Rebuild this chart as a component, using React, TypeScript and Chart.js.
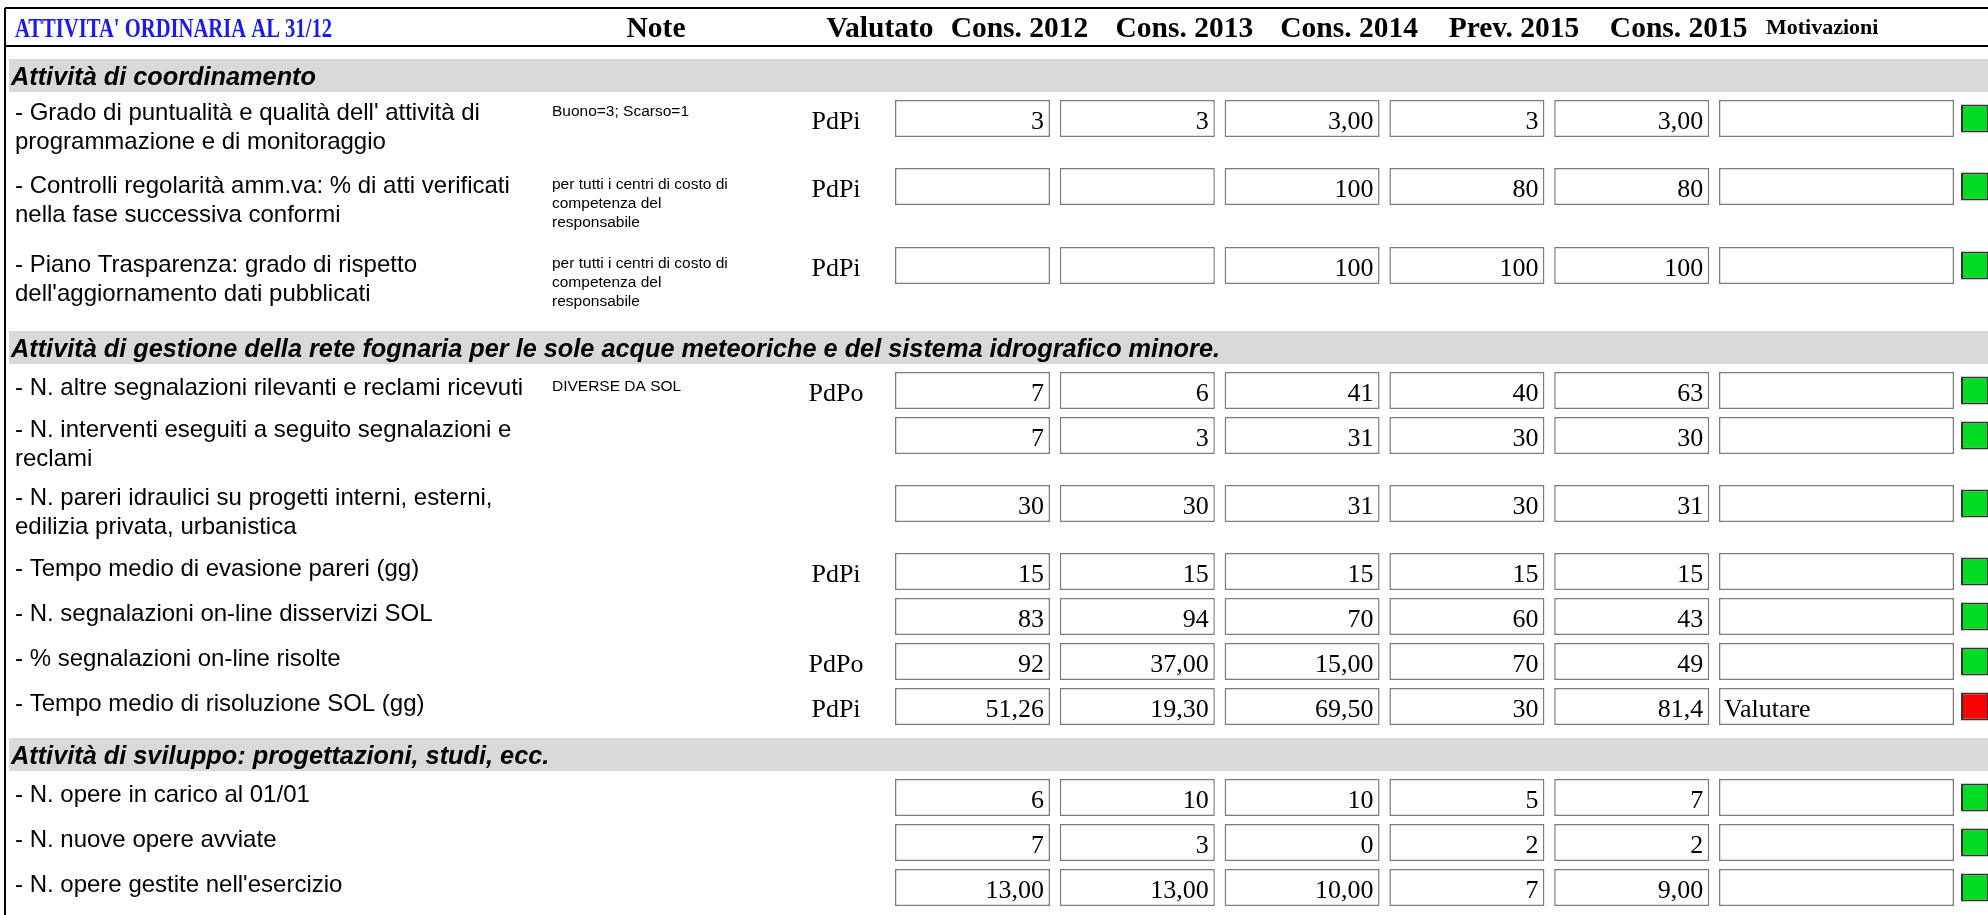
import { useEffect, useRef } from "react";
import { Chart, registerables } from "chart.js";

Chart.register(...registerables);

// ---------------- DATA ----------------
const pageTitle = "ATTIVITA' ORDINARIA AL 31/12";
const headerNote = "Note";
const headerValutato = "Valutato";
const periodLabels = ["Cons. 2012", "Cons. 2013", "Cons. 2014", "Prev. 2015", "Cons. 2015"];
const headerMotivazioni = "Motivazioni";

const sectionTitles = [
  "Attività di coordinamento",
  "Attività di gestione della rete fognaria per le sole acque meteoriche e del sistema idrografico minore.",
  "Attività di sviluppo: progettazioni, studi, ecc.",
];
const rowSection = [0, 0, 0, 1, 1, 1, 1, 1, 1, 1, 2, 2, 2];

const indicators = [
  "- Grado di puntualità e qualità dell' attività di\nprogrammazione e di monitoraggio",
  "- Controlli regolarità amm.va: % di atti verificati\nnella fase successiva conformi",
  "- Piano Trasparenza: grado di rispetto\ndell'aggiornamento dati pubblicati",
  "- N. altre segnalazioni rilevanti e reclami ricevuti",
  "- N. interventi eseguiti a seguito segnalazioni e\nreclami",
  "- N. pareri idraulici su progetti interni, esterni,\nedilizia privata, urbanistica",
  "- Tempo medio di evasione pareri (gg)",
  "- N. segnalazioni on-line disservizi SOL",
  "- % segnalazioni on-line risolte",
  "- Tempo medio di risoluzione SOL (gg)",
  "- N. opere in carico al 01/01",
  "- N. nuove opere avviate",
  "- N. opere gestite nell'esercizio",
];
const notes = [
  "Buono=3; Scarso=1",
  "per tutti i centri di costo di\ncompetenza del\nresponsabile",
  "per tutti i centri di costo di\ncompetenza del\nresponsabile",
  "DIVERSE DA SOL",
  "", "", "", "", "", "", "", "", "",
];
const valutato = ["PdPi", "PdPi", "PdPi", "PdPo", "", "", "PdPi", "", "PdPo", "PdPi", "", "", ""];

const cons2012 = ["3", "", "", "7", "7", "30", "15", "83", "92", "51,26", "6", "7", "13,00"];
const cons2013 = ["3", "", "", "6", "3", "30", "15", "94", "37,00", "19,30", "10", "3", "13,00"];
const cons2014 = ["3,00", "100", "100", "41", "31", "31", "15", "70", "15,00", "69,50", "10", "0", "10,00"];
const prev2015 = ["3", "80", "100", "40", "30", "30", "15", "60", "70", "30", "5", "2", "7"];
const cons2015 = ["3,00", "80", "100", "63", "30", "31", "15", "43", "49", "81,4", "7", "2", "9,00"];
const motivazioni = ["", "", "", "", "", "", "", "", "", "Valutare", "", "", ""];
const esito = ["ok", "ok", "ok", "ok", "ok", "ok", "ok", "ok", "ok", "ko", "ok", "ok", "ok"];

const periodValues = [cons2012, cons2013, cons2014, prev2015, cons2015];

// ---------------- LAYOUT / STYLE ----------------
const CANVAS_W = 1988;
const CANVAS_H = 915;
const FRAME_LEFT = 5;
const FRAME_TOP = 8;
const HEADER_BOTTOM = 46;
const HEADER_BASE = 37;
const TITLE_W = 317;
const BAND_LEFT = 9;
const BAND_GAP = 13;
const BAND_H = 33;
const CELL_OFFSET = 8;
const CELL_H = 37;
const FIRST_BOX_LEFT = 895;
const BOX_PITCH = 164.8;
const BOX_W = 155;
const MOTIV_RIGHT = 1954;
const STATUS_LEFT = 1961;
const STATUS_SIZE = 28;
const LABEL_X = 15;
const NOTE_X = 552;
const VALUTATO_CX = 836;
const HEADER_SHIFT = 47;
const LABEL_LINE = 29;
const NOTE_LINE = 19;

const SERIF = '"Liberation Serif", "Times New Roman", serif';
const SANS = '"Liberation Sans", Arial, sans-serif';

const GREEN = "#00dd22";
const RED = "#ff0000";

function computeLayout() {
  const bands: { top: number; title: string }[] = [];
  const rows: { top: number; h: number }[] = [];
  let y = HEADER_BOTTOM;
  let cur = -1;
  indicators.forEach((label, i) => {
    if (rowSection[i] !== cur) {
      cur = rowSection[i];
      const top = y + BAND_GAP;
      bands.push({ top, title: sectionTitles[cur] });
      y = top + BAND_H;
    }
    const labelLines = label.split("\n").length;
    const noteLines = notes[i] ? notes[i].split("\n").length : 0;
    const h = Math.max(45, labelLines * 28 + 12, noteLines * 21 + 16);
    rows.push({ top: y, h });
    y += h;
  });
  return { bands, rows };
}

const boxLeft = (c: number) => FIRST_BOX_LEFT + c * BOX_PITCH;
const motivLeft = FIRST_BOX_LEFT + periodLabels.length * BOX_PITCH;

export default function App() {
  const ref = useRef<HTMLCanvasElement | null>(null);

  useEffect(() => {
    document.body.style.margin = "0";
    const canvas = ref.current;
    if (!canvas) return;
    const { bands, rows } = computeLayout();
    const cellCenter = (i: number) => rows[i].top + CELL_OFFSET + CELL_H / 2;

    const boxStyle = {
      type: "bar" as const,
      grouped: false,
      barThickness: CELL_H,
      backgroundColor: "#ffffff",
      borderColor: "#7c7c7c",
      borderWidth: 1.5,
      borderSkipped: false,
      inflateAmount: 0,
    };

    const datasets: any[] = [
      {
        type: "bar",
        label: "sezioni",
        grouped: false,
        barThickness: BAND_H,
        backgroundColor: "#d9d9d9",
        borderWidth: 0,
        inflateAmount: 0,
        data: bands.map((b) => ({ y: b.top + BAND_H / 2, x: [BAND_LEFT, CANVAS_W] })),
      },
      ...periodLabels.map((lab, c) => ({
        ...boxStyle,
        label: lab,
        data: periodValues[c].map((_, i) => ({ y: cellCenter(i), x: [boxLeft(c), boxLeft(c) + BOX_W] })),
      })),
      {
        ...boxStyle,
        label: headerMotivazioni,
        data: motivazioni.map((_, i) => ({ y: cellCenter(i), x: [motivLeft, MOTIV_RIGHT] })),
      },
      {
        type: "bar",
        label: "esito",
        grouped: false,
        barThickness: STATUS_SIZE,
        backgroundColor: esito.map((e) => (e === "ok" ? GREEN : RED)),
        borderColor: "#333333",
        borderWidth: 2,
        borderSkipped: false,
        inflateAmount: 0,
        data: esito.map((_, i) => ({ y: cellCenter(i), x: [STATUS_LEFT, STATUS_LEFT + STATUS_SIZE] })),
      },
    ];

    const tablePlugin = {
      id: "tableText",
      afterDatasetsDraw(chart: any) {
        const ctx: CanvasRenderingContext2D = chart.ctx;
        const xs = chart.scales.x;
        const ys = chart.scales.y;
        const X = (v: number) => xs.getPixelForValue(v);
        const Y = (v: number) => ys.getPixelForValue(v);
        ctx.save();

        // frame lines
        ctx.strokeStyle = "#000000";
        ctx.lineWidth = 2;
        ctx.beginPath();
        ctx.moveTo(X(FRAME_LEFT), Y(FRAME_TOP));
        ctx.lineTo(X(CANVAS_W), Y(FRAME_TOP));
        ctx.moveTo(X(FRAME_LEFT), Y(HEADER_BOTTOM));
        ctx.lineTo(X(CANVAS_W), Y(HEADER_BOTTOM));
        ctx.moveTo(X(FRAME_LEFT), Y(FRAME_TOP));
        ctx.lineTo(X(FRAME_LEFT), Y(CANVAS_H));
        ctx.stroke();

        // header title (narrow, tall bold serif)
        ctx.textBaseline = "alphabetic";
        ctx.fillStyle = "#1a1aee";
        ctx.textAlign = "left";
        ctx.font = `bold 28px ${SERIF}`;
        const natural = ctx.measureText(pageTitle).width;
        ctx.save();
        ctx.translate(X(15), Y(HEADER_BASE));
        ctx.scale(TITLE_W / natural, 1);
        ctx.fillText(pageTitle, 0, 0);
        ctx.restore();

        ctx.fillStyle = "#000000";
        ctx.font = `bold 29.5px ${SERIF}`;
        ctx.textAlign = "center";
        ctx.fillText(headerNote, X(656), Y(HEADER_BASE));
        ctx.fillText(headerValutato, X(880), Y(HEADER_BASE));
        periodLabels.forEach((lab, c) => {
          ctx.fillText(lab, X(boxLeft(c) + BOX_W / 2 + HEADER_SHIFT), Y(HEADER_BASE));
        });
        ctx.textAlign = "left";
        ctx.font = `bold 22px ${SERIF}`;
        ctx.fillText(headerMotivazioni, X(motivLeft + HEADER_SHIFT), Y(HEADER_BASE - 3));

        // section titles
        ctx.font = `italic bold 25.3px ${SANS}`;
        bands.forEach((b) => {
          ctx.fillText(b.title, X(11), Y(b.top + BAND_H - 7));
        });

        // rows
        rows.forEach((r, i) => {
          const lines = indicators[i].split("\n");
          const start = r.top + (r.h - lines.length * LABEL_LINE) / 2;
          const firstBase = start + LABEL_LINE / 2 + 8;
          ctx.textAlign = "left";
          ctx.font = `24px ${SANS}`;
          lines.forEach((ln, k) => ctx.fillText(ln, X(LABEL_X), Y(firstBase + k * LABEL_LINE)));

          if (notes[i]) {
            ctx.font = `15.5px ${SANS}`;
            notes[i].split("\n").forEach((ln, k) =>
              ctx.fillText(ln, X(NOTE_X), Y(firstBase - 4 + k * NOTE_LINE))
            );
          }

          const base = cellCenter(i) + 10;
          ctx.font = `26px ${SERIF}`;
          if (valutato[i]) {
            ctx.textAlign = "center";
            ctx.fillText(valutato[i], X(VALUTATO_CX), Y(base));
          }
          ctx.textAlign = "right";
          periodValues.forEach((vals, c) => {
            if (vals[i]) ctx.fillText(vals[i], X(boxLeft(c) + BOX_W - 6), Y(base));
          });
          if (motivazioni[i]) {
            ctx.textAlign = "left";
            ctx.fillText(motivazioni[i], X(motivLeft + 5), Y(base));
          }
        });
        ctx.restore();
      },
    };

    const chart = new Chart(canvas, {
      type: "bar",
      data: { datasets },
      options: {
        animation: false,
        responsive: false,
        maintainAspectRatio: false,
        indexAxis: "y",
        events: [],
        layout: { padding: 0 },
        plugins: {
          legend: { display: false },
          tooltip: { enabled: false },
          title: { display: false },
        },
        scales: {
          x: { type: "linear", min: 0, max: CANVAS_W, display: false, offset: false },
          y: { type: "linear", min: 0, max: CANVAS_H, reverse: true, display: false, offset: false },
        },
      },
      plugins: [tablePlugin],
    } as any);

    return () => chart.destroy();
  }, []);

  return (
    <div style={{ width: CANVAS_W, height: CANVAS_H, background: "#ffffff" }}>
      <canvas ref={ref} width={CANVAS_W} height={CANVAS_H} style={{ display: "block" }} />
    </div>
  );
}
